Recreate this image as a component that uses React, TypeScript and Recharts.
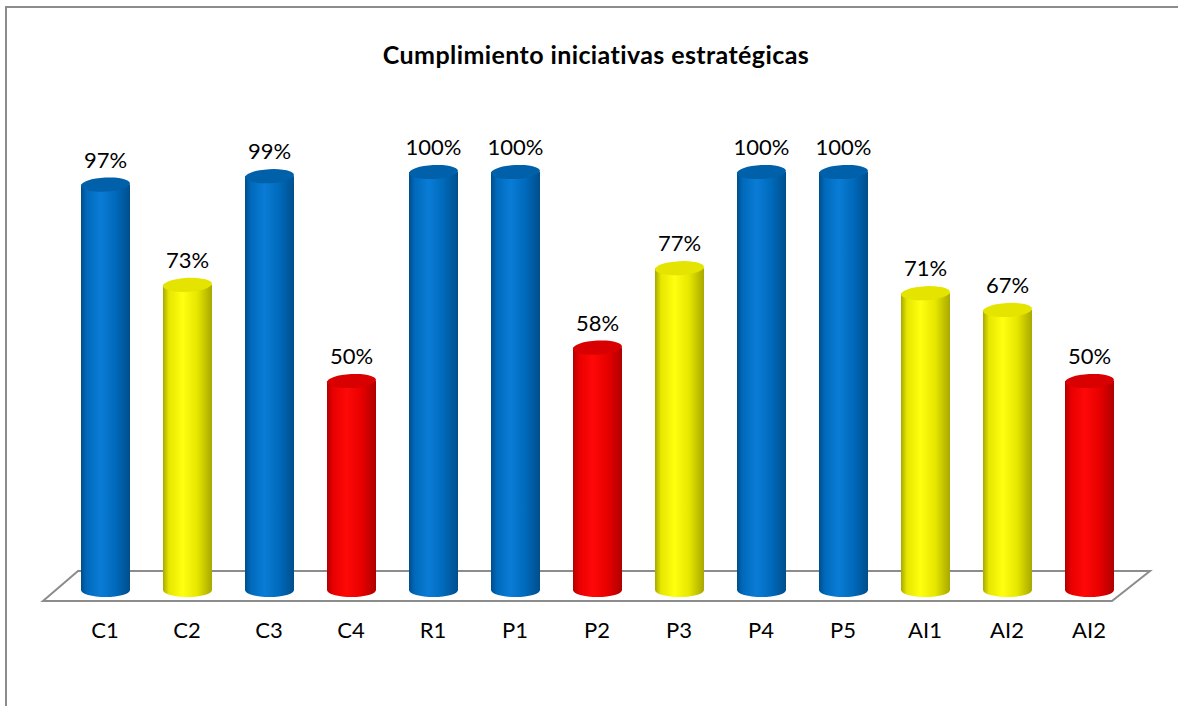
import React from "react";
import { BarChart, Bar, XAxis, YAxis, Cell, LabelList, ReferenceLine } from "recharts";

const categories = ["C1", "C2", "C3", "C4", "R1", "P1", "P2", "P3", "P4", "P5", "AI1", "AI2", "AI2"];
const values = [97, 73, 99, 50, 100, 100, 58, 77, 100, 100, 71, 67, 50];
const chartTitle = "Cumplimiento iniciativas estratégicas";

const data = categories.map((name, i) => ({ name, value: values[i] }));

const PALETTE: Record<string, { dark: string; mid: string; light: string; top: string }> = {
  blue: { dark: "#004e8c", mid: "#006abb", light: "#0a7cd6", top: "#0060aa" },
  yellow: { dark: "#a8a800", mid: "#e6e600", light: "#ffff10", top: "#e4e400" },
  red: { dark: "#b00000", mid: "#e80000", light: "#ff0808", top: "#d80000" },
};

const statusOf = (v: number) => (v >= 90 ? "blue" : v >= 60 ? "yellow" : "red");

const Cylinder = (props: any) => {
  const { x, y, width, height, index, fill } = props;
  const c = PALETTE[fill] || PALETTE.blue;
  const rx = width / 2;
  const ry = 7;
  const cx = x + rx;
  const bottom = y + height;
  const id = `cyl-grad-${index}`;
  const d = `M ${x} ${y} L ${x} ${bottom} A ${rx} ${ry} 0 0 0 ${x + width} ${bottom} L ${x + width} ${y} Z`;
  return (
    <g>
      <defs>
        <linearGradient id={id} x1="0" y1="0" x2="1" y2="0">
          <stop offset="0%" stopColor={c.dark} />
          <stop offset="12%" stopColor={c.mid} />
          <stop offset="40%" stopColor={c.light} />
          <stop offset="70%" stopColor={c.mid} />
          <stop offset="100%" stopColor={c.dark} />
        </linearGradient>
      </defs>
      <path d={d} fill={`url(#${id})`} />
      <ellipse cx={cx} cy={y} rx={rx} ry={ry} fill={c.top} transform={`rotate(-3 ${cx} ${y})`} />
    </g>
  );
};

const Floor = (props: any) => {
  const { x1, y1, x2 } = props;
  const y = y1;
  const pts = `${x1 - 21},${y + 11} ${x2 - 18},${y + 11} ${x2 + 20},${y - 19} ${x1 + 14},${y - 19}`;
  return <polygon points={pts} fill="#ffffff" stroke="#8c8c8c" strokeWidth={2} />;
};

export default function App() {
  const font = "Lato, 'Noto Sans', sans-serif";
  return (
    <div style={{ position: "absolute", left: 0, top: 0, width: 1178, height: 706, background: "#fff", fontFamily: font }}>
      <div style={{ position: "absolute", left: 5, top: 6, width: 1180, height: 710, borderLeft: "2px solid #8c8c8c", borderTop: "2px solid #8c8c8c" }} />
      <div style={{ position: "absolute", left: 0, top: 39, width: 1192, textAlign: "center", fontWeight: 700, fontSize: 25, letterSpacing: 0.4, color: "#000" }}>
        {chartTitle}
      </div>
      <div style={{ position: "absolute", left: 0, top: 0 }}>
        <BarChart width={1178} height={706} data={data} margin={{ top: 172, right: 48, bottom: 86, left: 64 }} barCategoryGap={0} barSize={49}>
          <YAxis hide domain={[0, 100]} />
          <ReferenceLine y={0} ifOverflow="visible" shape={Floor} zIndex={-10} />
          <XAxis
            dataKey="name"
            axisLine={false}
            tickLine={false}
            height={30}
            tickMargin={26}
            interval={0}
            tick={{ fill: "#000", fontSize: 22, fontFamily: font }}
          />
          <Bar dataKey="value" shape={Cylinder} isAnimationActive={false}>
            {data.map((d, i) => (
              <Cell key={i} fill={statusOf(d.value)} />
            ))}
            <LabelList dataKey="value" position="top" offset={17} formatter={(v: any) => `${v}%`} style={{ fill: "#000", fontSize: 22, fontFamily: font }} />
          </Bar>
        </BarChart>
      </div>
    </div>
  );
}
